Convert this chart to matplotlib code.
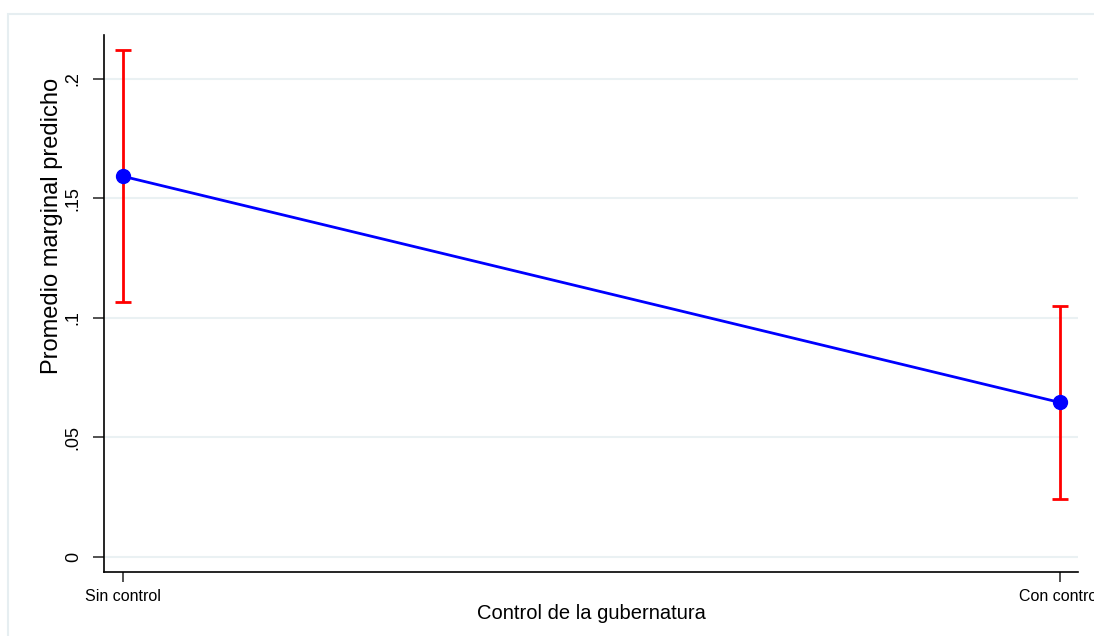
import matplotlib.pyplot as plt
from matplotlib.patches import Rectangle

# Predictive margins with 95% CIs
categories = ["Sin control", "Con control"]
margins = [0.1592, 0.0646]
ci_low = [0.1066, 0.0242]
ci_high = [0.2121, 0.1051]
ytick_vals = [0, 0.05, 0.1, 0.15, 0.2]
ytick_labels = ["0", ".05", ".1", ".15", ".2"]

plt.rcParams['font.family'] = ['Liberation Sans', 'DejaVu Sans']

W, H = 1094, 636
fig = plt.figure(figsize=(W / 100, H / 100), dpi=100)
fig.patch.set_facecolor('white')

# light outer frame of the graph region
fig.patches.append(Rectangle((8 / W, -0.2), 1.2, 1.2 - 14 / H, transform=fig.transFigure,
                             fill=False, edgecolor='#e6eef1', linewidth=1.5))

ax = fig.add_axes([104 / W, 1 - 572 / H, (1078 - 104) / W, (572 - 35) / H])

x = list(range(len(categories)))
yerr = [[m - lo for m, lo in zip(margins, ci_low)],
        [hi - m for m, hi in zip(margins, ci_high)]]

ax.errorbar(x, margins, yerr=yerr, fmt='none', ecolor='#ff0000',
            elinewidth=2, capsize=5.5, capthick=2, zorder=3)
ax.plot(x, margins, '-o', color='#0000ff', linewidth=2, markersize=10, zorder=4)

ax.set_xlim(-0.0203, 1.0192)
ax.set_ylim(-0.0063, 0.2183)

ax.set_yticks(ytick_vals)
ax.set_yticklabels(ytick_labels, rotation=90, va='center', fontsize=13)
ax.set_xticks(x)
ax.set_xticklabels(categories, fontsize=11.5)

ax.grid(axis='y', color='#eaf1f3', linewidth=1.5)
ax.set_axisbelow(True)

for s in ['top', 'right']:
    ax.spines[s].set_visible(False)
for s in ['left', 'bottom']:
    ax.spines[s].set_linewidth(1.2)
    ax.spines[s].set_color('black')

ax.tick_params(axis='y', length=8, width=1.2, color='#333333', pad=8)
ax.tick_params(axis='x', length=7, width=1.2, color='#333333', pad=5)

ax.set_xlabel("Control de la gubernatura", fontsize=14.5, labelpad=0)
fig.text(52 / W, 1 - 226 / H, "Promedio marginal predicho", rotation=90,
         ha='center', va='center', fontsize=17)

fig.savefig("out.png", dpi=100)
